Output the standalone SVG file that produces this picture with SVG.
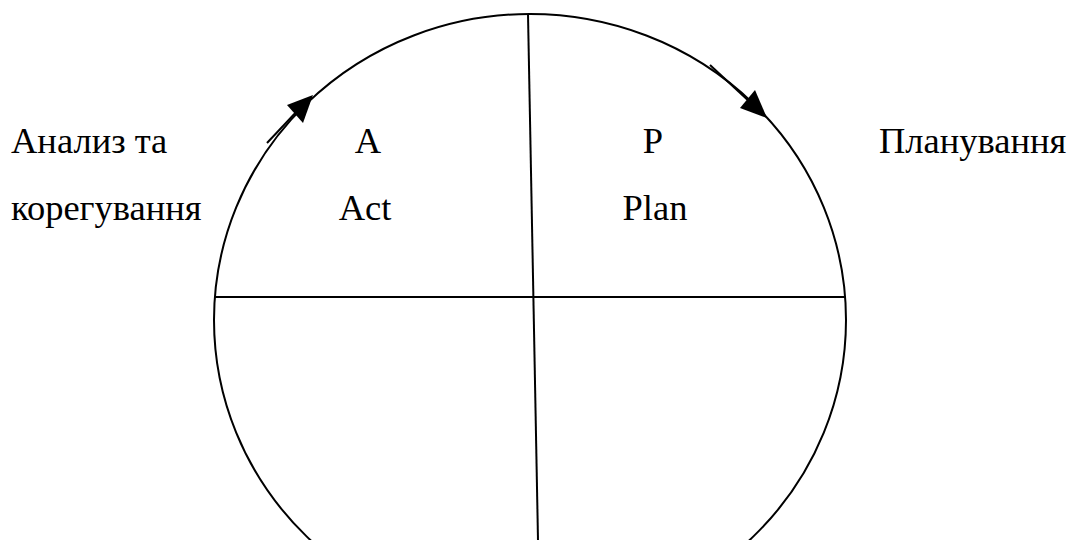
<svg xmlns="http://www.w3.org/2000/svg" width="1073" height="540" viewBox="0 0 1073 540">
<style>
.ln{fill:none;stroke:#000;stroke-width:2}
.ah{fill:#000;stroke:none}
.t{font-family:'Liberation Serif','Times New Roman','DejaVu Serif',serif;font-size:36.5px;fill:#000}
</style>
<rect width="1073" height="540" fill="#fff"/>
<g id="circle">
<ellipse class="ln" cx="530" cy="320" rx="316" ry="306"/>
</g>
<g id="connectors">
<line class="ln" x1="214" y1="297" x2="846" y2="297"/>
<line class="ln" x1="528" y1="14" x2="538" y2="540"/>
<line class="ln" x1="267" y1="143" x2="300" y2="108"/>
<polygon class="ah" points="313,95 287,105 303,123"/>
<line class="ln" x1="710" y1="65" x2="752" y2="104"/>
<polygon class="ah" points="767,118 740,108 755,90"/>
</g>
<g id="act">
<text class="t" x="368" y="153" text-anchor="middle">A</text>
<text class="t" x="365" y="220" text-anchor="middle">Act</text>
</g>
<g id="plan">
<text class="t" x="653" y="153" text-anchor="middle">P</text>
<text class="t" x="655" y="220" text-anchor="middle">Plan</text>
</g>
<g id="label-act">
<text class="t" x="11" y="153">Анализ та</text>
<text class="t" x="11" y="220">корегування</text>
</g>
<g id="label-plan">
<text class="t" x="879" y="153">Планування</text>
</g>
</svg>
